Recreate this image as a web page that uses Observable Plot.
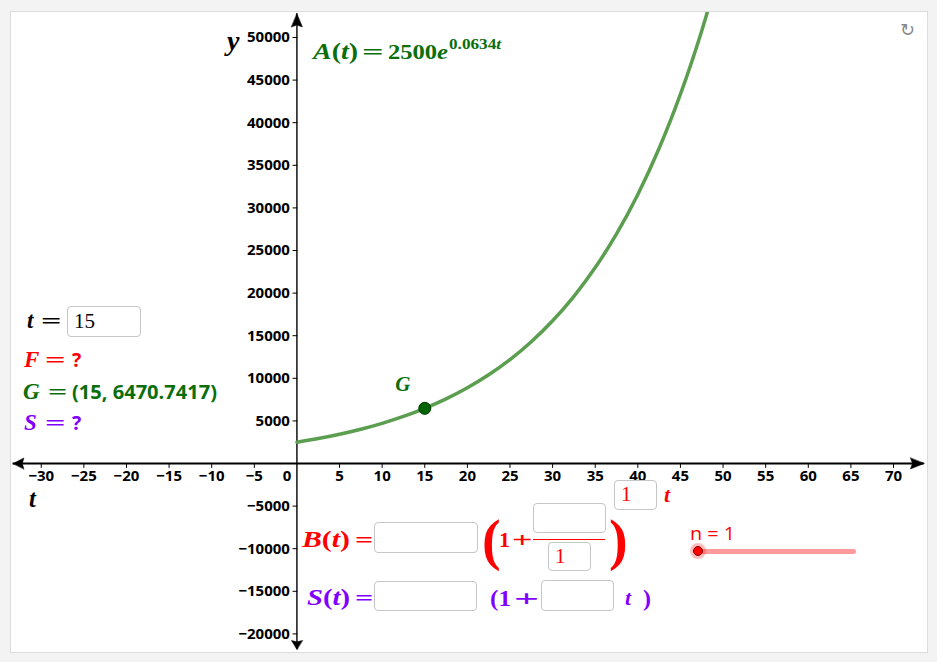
<!DOCTYPE html>
<html>
<head>
<meta charset="utf-8">
<script src="https://cdn.jsdelivr.net/npm/d3@7"></script>
<script src="https://cdn.jsdelivr.net/npm/@observablehq/plot@0.6"></script>
<style>
  html, body { margin: 0; padding: 0; background: #f3f3f3; }
  #page { position: relative; width: 937px; height: 662px; overflow: hidden; background: #f3f3f3; }
  #panel { position: absolute; left: 10px; top: 11px; width: 916px; height: 640px; background: #fff; border: 1px solid #dcdcdc; }
  #chart { position: absolute; left: 11px; top: 12px; }
  .t { position: absolute; white-space: nowrap; line-height: 1; transform-origin: 0 50%; }
  .serif { font-family: "Liberation Serif", "DejaVu Serif", serif; font-weight: bold; }
  .sans { font-family: "Open Sans", "DejaVu Sans", sans-serif; font-weight: bold; }
  .plain { font-family: "Open Sans", "DejaVu Sans", sans-serif; font-weight: normal; }
  .box { position: absolute; background: #fff; border: 1px solid #c6c6c6; border-radius: 4px; box-sizing: border-box; }
  .red { color: #ff0000; }
  .green { color: #0a6e0a; }
  .purple { color: #7f00ff; }
</style>
</head>
<body>
<div id="page">
  <div id="panel"></div>
  <div id="chart"></div>
</div>
<script>
// ---- data ----
const tValues = [0, 2.5, 5, 7.5, 10, 12.5, 15, 17.5, 20, 22.5, 25, 27.5, 30, 32.5, 35, 37.5, 40, 42.5, 45, 47.5, 50];
const aValues = [2500, 2929, 3433, 4022, 4713, 5522, 6471, 7582, 8884, 10410, 12198, 14293, 16748, 19625, 22995, 26945, 31573, 36995, 43349, 50795, 59519];
const xTicks = [-30, -25, -20, -15, -10, -5, 5, 10, 15, 20, 25, 30, 35, 40, 45, 50, 55, 60, 65, 70];
const yTicks = [-20000, -15000, -10000, -5000, 5000, 10000, 15000, 20000, 25000, 30000, 35000, 40000, 45000, 50000];
const pointG = [{t: 15, y: 6470.7417, label: "G"}];
const xDomain = [-33.49, 73.87];
const yDomain = [-22066, 52934];
const xArrowTips = [73.6, -33.3];
const yArrowTips = [52780, -21830];

// ---- chart ----
const curve = tValues.map((t, i) => ({t, y: aValues[i]}));
const fmt = d => (d < 0 ? "\u2212" + Math.abs(d) : String(d));
const line = {draw(ctx, l) { ctx.moveTo(0, 0); ctx.lineTo(0, -l); }};
const head = {draw(ctx, l, r) { ctx.moveTo(0, -l); ctx.lineTo(r, 0); ctx.lineTo(0, -l * 0.15); ctx.lineTo(-r, 0); ctx.closePath(); }};
const arrows = [
  {x: xArrowTips[0], y: 0, rot: 90, len: 23},
  {x: xArrowTips[1], y: 0, rot: -90, len: 18},
  {x: 0, y: yArrowTips[0], rot: 0, len: 22},
  {x: 0, y: yArrowTips[1], rot: 180, len: 15}
];

const chart = Plot.plot({
  width: 915,
  height: 639,
  margin: 0,
  style: {background: "transparent"},
  x: {domain: xDomain, axis: null},
  y: {domain: yDomain, axis: null},
  marks: [
    Plot.ruleY([0], {x1: xArrowTips[1], x2: xArrowTips[0], stroke: "#000", strokeWidth: 2}),
    Plot.ruleX([0], {y1: yArrowTips[1], y2: yArrowTips[0], stroke: "#000", strokeWidth: 1.4}),
    Plot.vector(xTicks, {x: d => d, y: 0, length: 4, rotate: 180, anchor: "start", shape: line, stroke: "#000", strokeWidth: 1}),
    Plot.vector(yTicks, {x: 0, y: d => d, length: 4, rotate: -90, anchor: "start", shape: line, stroke: "#000", strokeWidth: 1}),
    Plot.vector(arrows, {x: "x", y: "y", rotate: "rot", length: "len", anchor: "end", shape: head, r: 5.5, fill: "#000", stroke: "#000", strokeWidth: 0.5}),
    Plot.text(xTicks, {x: d => d, y: 0, dy: 13, text: fmt, fontSize: 15, fontWeight: "bold", fontFamily: "Open Sans", fill: "#000"}),
    Plot.text([0], {x: 0, y: 0, dx: -10, dy: 13, text: d => String(d), fontSize: 15, fontWeight: "bold", fontFamily: "Open Sans", fill: "#000"}),
    Plot.text(yTicks, {x: 0, y: d => d, dx: -7, text: fmt, textAnchor: "end", fontSize: 15, fontWeight: "bold", fontFamily: "Open Sans", fill: "#000"}),
    Plot.line(curve, {x: "t", y: "y", curve: "catmull-rom", stroke: "#5b9e4f", strokeWidth: 3.5, clip: true}),
    Plot.dot(pointG, {x: "t", y: "y", r: 6, fill: "#006400", stroke: "#003300", strokeWidth: 1}),
    Plot.text(pointG, {x: "t", y: "y", text: "label", dx: -22, dy: -24, fontSize: 21, fontStyle: "italic", fontWeight: "bold", fontFamily: "Liberation Serif", fill: "#0a6e0a"})
  ]
});
document.getElementById("chart").appendChild(chart);

// ---- overlay texts and widgets ----
const page = document.getElementById("page");
// x0: left edge, x1: right edge (optional, stretches horizontally), baseline, font size
function txt(html, x0, x1, baseline, size, cls, k, lh) {
  const el = document.createElement("div");
  el.className = "t " + cls;
  el.innerHTML = html;
  el.style.left = x0 + "px";
  el.style.fontSize = size + "px";
  if (lh) el.style.lineHeight = lh;
  const kk = k !== undefined ? k : (cls.includes("sans") || cls.includes("plain") ? 0.89 : 0.84);
  el.style.top = (baseline - kk * size) + "px";
  page.appendChild(el);
  if (x1 != null) {
    const w = el.getBoundingClientRect().width;
    if (w > 0) el.style.transform = "scaleX(" + ((x1 - x0) / w).toFixed(3) + ")";
  }
  return el;
}
// a wide TeX-like sign ("=" or "+") whose ink spans x0..x1
function sign(ch, x0, x1, baseline, size, cls) {
  const w = x1 - x0;
  return txt(ch, x0 - 0.07 * w, x1 + 0.07 * w, baseline, size, cls);
}
function box(x, y, w, h, inner, innerCls) {
  const el = document.createElement("div");
  el.className = "box";
  el.style.left = x + "px"; el.style.top = y + "px";
  el.style.width = w + "px"; el.style.height = h + "px";
  if (inner) {
    const s = document.createElement("div");
    s.className = "t " + innerCls;
    s.style.fontFamily = '"Liberation Serif", serif';
    s.style.fontSize = "21px";
    s.style.left = "6px"; s.style.top = (h / 2 - 12) + "px";
    s.textContent = inner;
    el.appendChild(s);
  }
  page.appendChild(el);
  return el;
}

// axis names
txt("<i>y</i>", 227, null, 51, 28, "serif");
txt("<i>t</i>", 29, null, 507, 24.5, "serif", 0.6875, "0.7");

// function label A(t) = 2500e^{0.0634t}
txt("<i>A</i>(<i>t</i>)", 313, 358, 59, 23, "serif green");
sign("=", 363, 382, 59, 22, "serif green");
txt("2500<i>e</i>", 388, 448, 59, 22, "serif green");
txt("0.0634<i>t</i>", 449, 501, 50, 15, "serif green");

// left panel
txt("<i>t</i>", 27, null, 328, 23, "serif");
sign("=", 42, 60, 328, 22, "serif");
box(67, 306, 74, 31, "15", "");
txt("<i>F</i>", 24, null, 367, 23, "serif red");
sign("=", 46, 64, 367, 22, "serif red");
txt("?", 72, null, 367, 19.5, "sans red");
txt("<i>G</i>", 23, null, 399, 23, "serif green");
sign("=", 49, 66, 399, 22, "serif green");
txt("(15, 6470.7417)", 72, 217, 399, 19.5, "sans green");
txt("<i>S</i>", 24, null, 430, 23, "serif purple");
sign("=", 46, 64, 430, 22, "serif purple");
txt("?", 72, null, 430, 19.5, "sans purple");

// B(t)
txt("<i>B</i>(<i>t</i>)", 302, 350, 547, 23, "serif red");
sign("=", 356, 372, 547, 22, "serif red");
box(374, 522, 104, 31);
txt("(", 482, null, 559, 56, "serif red");
txt("1", 499, null, 547, 22, "serif red");
sign("+", 513, 531, 547, 22, "serif red");
box(533, 503, 73, 30);
const fr = document.createElement("div");
fr.style.cssText = "position:absolute;left:533px;top:538.5px;width:72px;height:1.5px;background:#ff0000";
page.appendChild(fr);
box(548, 542, 43, 29, "1", "red");
txt(")", 609, null, 559, 56, "serif red");
box(614, 480, 43, 30, "1", "red");
txt("<i>t</i>", 664, null, 502, 22, "serif red");

// S(t)
txt("<i>S</i>(<i>t</i>)", 307, 350, 605, 23, "serif purple");
sign("=", 356, 372, 605, 22, "serif purple");
box(374, 581, 103, 30);
txt("(1", 490, 511, 606, 24, "serif purple");
sign("+", 516, 538, 606, 24, "serif purple");
box(541, 580, 73, 31);
txt("<i>t</i>", 625, null, 605, 22, "serif purple");
txt(")", 643, null, 606, 24, "serif purple");

// slider
txt("n = 1", 690, 735, 540, 18, "plain red");
const track = document.createElement("div");
track.style.cssText = "position:absolute;left:696px;top:548.5px;width:160px;height:5px;background:#ff9a9a;border-radius:3px";
page.appendChild(track);
const halo = document.createElement("div");
halo.style.cssText = "position:absolute;left:690px;top:543px;width:16px;height:16px;border-radius:50%;background:rgba(255,0,0,0.25)";
page.appendChild(halo);
const knob = document.createElement("div");
knob.style.cssText = "position:absolute;left:693px;top:546px;width:10px;height:10px;border-radius:50%;background:#ff0000;border:1px solid #7a0000;box-sizing:border-box";
page.appendChild(knob);

// reset icon
const icon = txt("\u21BB", 900, null, 36, 18, "plain");
icon.style.color = "#888";
</script>
</body>
</html>
